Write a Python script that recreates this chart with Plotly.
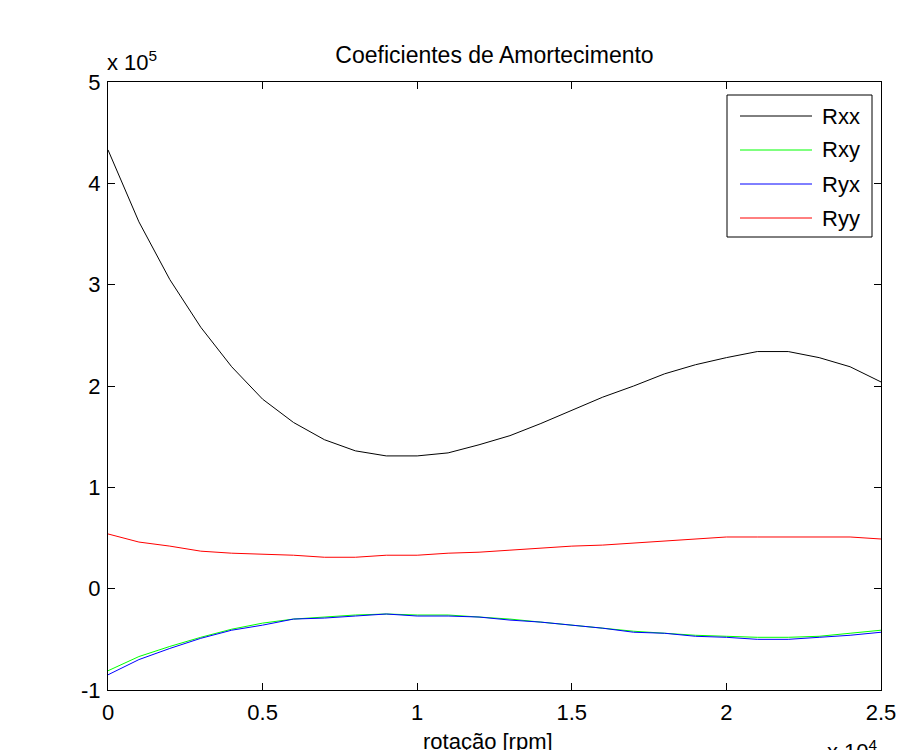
import plotly.graph_objects as go

rotacao = [0, 1000, 2000, 3000, 4000, 5000, 6000, 7000, 8000, 9000, 10000, 11000, 12000,
           13000, 14000, 15000, 16000, 17000, 18000, 19000, 20000, 21000, 22000, 23000, 24000, 25000]
Rxx = [4.33, 3.62, 3.05, 2.58, 2.19, 1.87, 1.64, 1.47, 1.36, 1.31, 1.31, 1.34, 1.42,
       1.51, 1.63, 1.76, 1.89, 2.00, 2.12, 2.21, 2.28, 2.34, 2.34, 2.28, 2.19, 2.04]
Rxy = [-0.81, -0.67, -0.57, -0.48, -0.40, -0.34, -0.30, -0.28, -0.26, -0.25, -0.26, -0.26, -0.28,
       -0.30, -0.33, -0.36, -0.39, -0.42, -0.44, -0.46, -0.47, -0.48, -0.48, -0.47, -0.44, -0.41]
Ryx = [-0.85, -0.70, -0.59, -0.49, -0.41, -0.36, -0.30, -0.29, -0.27, -0.25, -0.27, -0.27, -0.28,
       -0.31, -0.33, -0.36, -0.39, -0.43, -0.44, -0.47, -0.48, -0.50, -0.50, -0.48, -0.46, -0.43]
Ryy = [0.54, 0.46, 0.42, 0.37, 0.35, 0.34, 0.33, 0.31, 0.31, 0.33, 0.33, 0.35, 0.36,
       0.38, 0.40, 0.42, 0.43, 0.45, 0.47, 0.49, 0.51, 0.51, 0.51, 0.51, 0.51, 0.49]

series_names = ["Rxx", "Rxy", "Ryx", "Ryy"]
series_vals = [Rxx, Rxy, Ryx, Ryy]
series_colors = ["#000000", "#00ff00", "#0000ff", "#ff0000"]

x_tickvals = [0, 5000, 10000, 15000, 20000, 25000]
x_ticktext = ["0", "0.5", "1", "1.5", "2", "2.5"]
y_tickvals = [-1e5, 0, 1e5, 2e5, 3e5, 4e5, 5e5]
y_ticktext = ["-1", "0", "1", "2", "3", "4", "5"]

FONT = "Liberation Sans, Arial, Helvetica, sans-serif"
W, H = 921, 750
ML, MR, MT, MB = 108, 40, 82, 60

fig = go.Figure()
for name, vals, col in zip(series_names, series_vals, series_colors):
    fig.add_trace(go.Scatter(x=rotacao, y=[v * 1e5 for v in vals], mode="lines", name=name,
                             line=dict(color=col, width=1), showlegend=False))

axis_common = dict(showline=True, linecolor="#000000", linewidth=1, mirror="ticks",
                   ticks="inside", ticklen=7, tickcolor="#000000", tickwidth=1,
                   showgrid=False, zeroline=False,
                   tickfont=dict(family=FONT, size=22, color="#000000"))

fig.update_xaxes(range=[0, 25000], tickvals=x_tickvals, ticktext=x_ticktext,
                 ticklabelstandoff=3, **axis_common)
fig.update_yaxes(range=[-1e5, 5e5], tickvals=y_tickvals, ticktext=y_ticktext,
                 ticklabelstandoff=2, **axis_common)

pw = W - ML - MR
ph = H - MT - MB

def px(xp):
    return (xp - ML) / pw

def py(yp):
    return (H - MB - yp) / ph

# legend drawn manually (MATLAB-style)
shapes = [dict(type="rect", xref="paper", yref="paper", x0=px(727), x1=px(872), y0=py(237), y1=py(95),
               line=dict(color="#000000", width=1), fillcolor="#ffffff", layer="above")]
annotations = []
leg_y = [116, 150, 184, 218]
for name, col, ly in zip(series_names, series_colors, leg_y):
    shapes.append(dict(type="line", xref="paper", yref="paper", x0=px(740), x1=px(812), y0=py(ly), y1=py(ly),
                       line=dict(color=col, width=1), layer="above"))
    annotations.append(dict(text=name, xref="paper", yref="paper", x=px(820), y=py(ly), xanchor="left",
                            yanchor="middle", showarrow=False,
                            font=dict(family=FONT, size=22, color="#000000")))

annotations.append(dict(text="x 10<sup>5</sup>", xref="paper", yref="paper", x=px(105), y=py(61),
                        xanchor="left", yanchor="middle", showarrow=False,
                        font=dict(family=FONT, size=22, color="#000000")))
annotations.append(dict(text="x 10<sup>4</sup>", xref="paper", yref="paper", x=px(825), y=py(750),
                        xanchor="left", yanchor="middle", showarrow=False,
                        font=dict(family=FONT, size=22, color="#000000")))
annotations.append(dict(text="rotação [rpm]", xref="paper", yref="paper", x=px(488), y=py(741),
                        xanchor="center", yanchor="middle", showarrow=False,
                        font=dict(family=FONT, size=22, color="#000000")))

fig.update_layout(
    width=W, height=H,
    margin=dict(l=ML, r=MR, t=MT, b=MB, autoexpand=False),
    paper_bgcolor="#ffffff", plot_bgcolor="#ffffff",
    title=dict(text="Coeficientes de Amortecimento", x=(ML + pw / 2) / W, xanchor="center",
               y=1 - 55 / H, yanchor="middle",
               font=dict(family=FONT, size=23, color="#000000")),
    shapes=shapes, annotations=annotations,
    showlegend=False,
)

fig.write_html("out.html")
